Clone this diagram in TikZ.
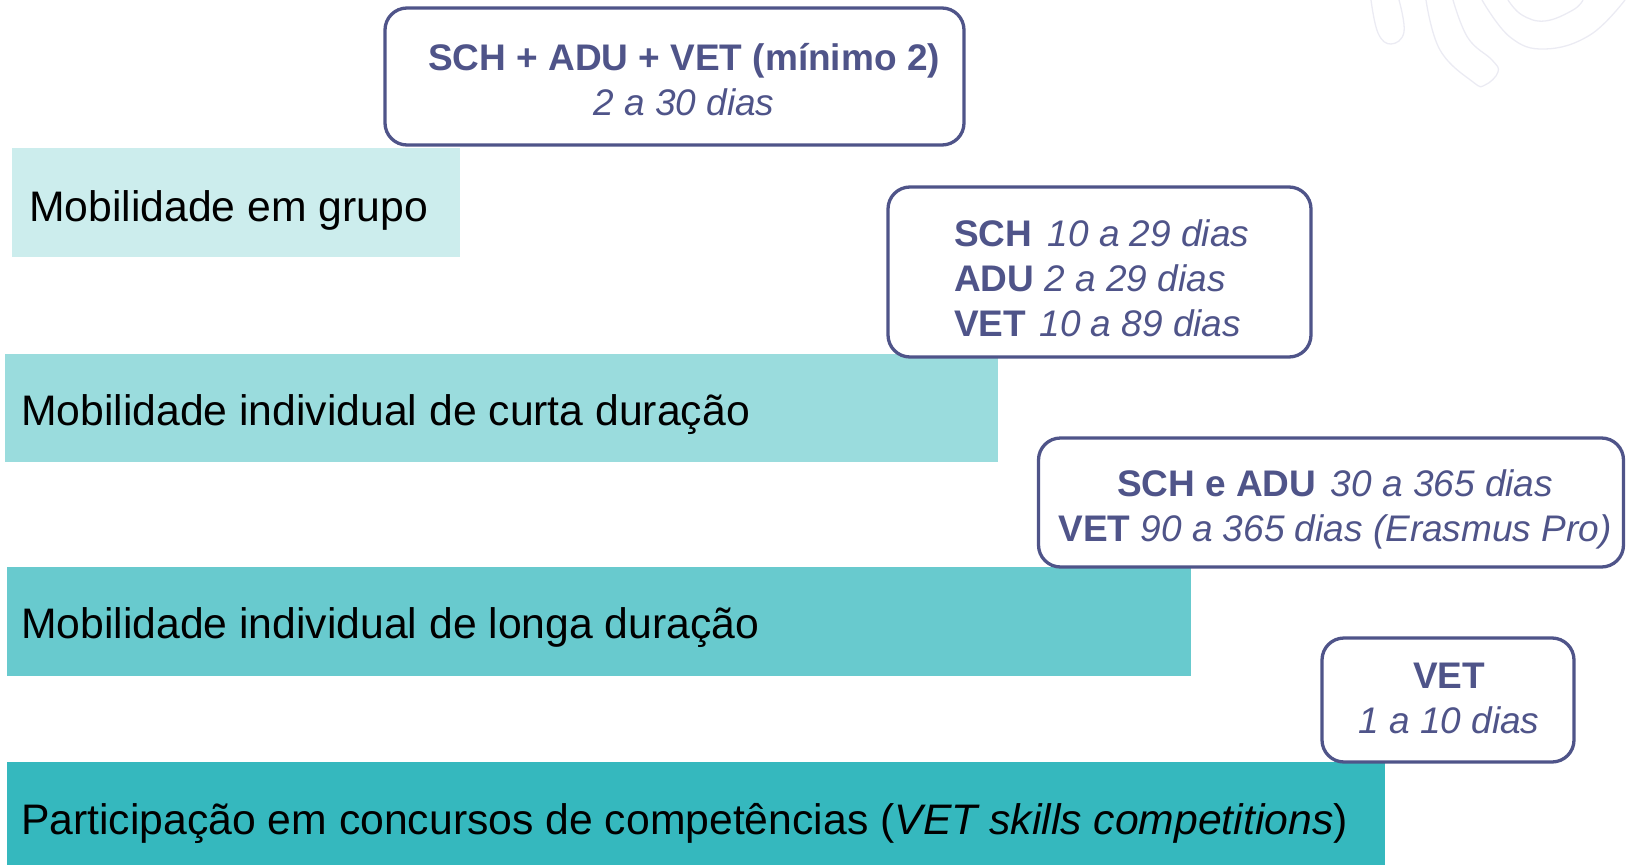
\documentclass[tikz,border=0pt]{standalone}
\usepackage{fontspec}
\setmainfont{Liberation Sans}
\definecolor{cA}{HTML}{CCEDED}
\definecolor{cB}{HTML}{9ADCDD}
\definecolor{cC}{HTML}{68CACE}
\definecolor{cD}{HTML}{35B8BE}
\definecolor{slate}{HTML}{4F5489}
\definecolor{deco}{HTML}{EBEBF3}
\begin{document}
\begin{tikzpicture}[x=1pt,y=-1pt,
  bar/.style={draw=none,inner sep=0pt,anchor=north west},
  bartext/.style={anchor=west,inner sep=0pt,font=\fontsize{42.7}{50}\selectfont},
  infobox/.style={draw=slate,line width=3.3pt,rounded corners=22pt,fill=white,inner sep=0pt},
  infotext/.style={text=slate,inner sep=0pt,font=\fontsize{37}{45}\selectfont},
  decoline/.style={draw=deco,line width=1.3pt}]
\useasboundingbox (0,0) rectangle (1626,865);
% faint decoration
\draw[decoline] plot[smooth,tension=0.7] coordinates {(1371,0) (1378,33) (1391,44) (1404,32) (1399,0)};
\draw[decoline] plot[smooth,tension=0.7] coordinates {(1426,0) (1440,50) (1473,82) (1485,85) (1498,72) (1492,60) (1468,38) (1453,0)};
\draw[decoline] plot[smooth,tension=0.7] coordinates {(1482,0) (1510,37) (1545,49) (1590,35) (1625,0)};
\draw[decoline] plot[smooth,tension=0.7] coordinates {(1508,0) (1522,15) (1545,21) (1573,10) (1583,0)};
% bars
\node[bar,fill=cA,minimum width=448pt,minimum height=109pt] (r1) at (12,148) {};
\node[bar,fill=cB,minimum width=993pt,minimum height=108pt] (r2) at (5,354) {};
\node[bar,fill=cC,minimum width=1184pt,minimum height=109pt] (r3) at (7,567) {};
\node[bar,fill=cD,minimum width=1378pt,minimum height=103pt] (r4) at (7,762) {};
\node[bartext] (t1) at (29,210) {Mobilidade em grupo};
\node[bartext] (t2) at (21,415) {Mobilidade individual de curta duração};
\node[bartext] (t3) at (21,628) {Mobilidade individual de longa duração};
\node[bartext] (t4) at (21,823) {Participação em concursos de competências (\textit{VET skills competitions})};
% info boxes
\node[infobox,minimum width=579pt,minimum height=137pt] (b1) at (674.5,76.5) {};
\node[infotext,align=center] (bt1) at (684,80) {\textbf{SCH + ADU + VET (mínimo 2)}\\\textit{2 a 30 dias}};
\node[infobox,minimum width=423pt,minimum height=170pt] (b2) at (1099.5,272) {};
\node[infotext,align=left,anchor=west] (bt2) at (954,278) {\textbf{SCH}\hspace{5pt} \textit{10 a 29 dias}\\\textbf{ADU} \textit{2 a 29 dias}\\\textbf{VET}\hspace{3pt} \textit{10 a 89 dias}};
\node[infobox,minimum width=585pt,minimum height=129pt] (b3) at (1331,502.5) {};
\node[infotext,align=center] (bt3) at (1335,509) {\textbf{SCH e ADU}\hspace{4pt} \textit{30 a 365 dias}\\\textbf{VET} \textit{90 a 365 dias (Erasmus Pro)}};
\node[infobox,minimum width=252pt,minimum height=124pt] (b4) at (1448,700) {};
\node[infotext,align=center] (bt4) at (1449,698) {\textbf{VET}\\\textit{1 a 10 dias}};
\end{tikzpicture}
\end{document}
